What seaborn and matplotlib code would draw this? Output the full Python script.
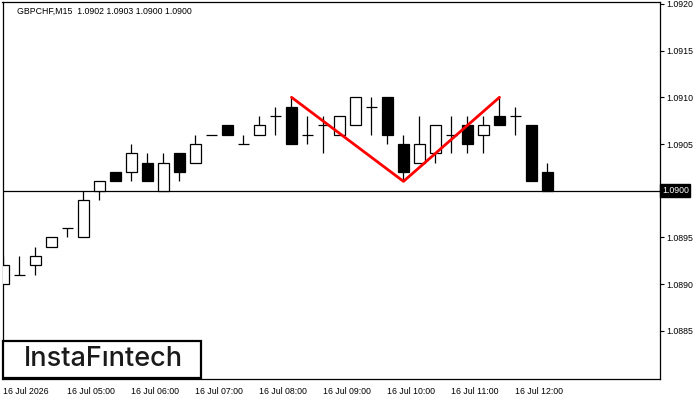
import numpy as np
import pandas as pd
import seaborn as sns
import matplotlib.pyplot as plt
from matplotlib.patches import Rectangle

# GBPCHF M15 bars, 16 Jul from 04:00
opens  = [1.0890, 1.0891, 1.0892, 1.0894, 1.0896, 1.0895, 1.0900, 1.0902, 1.0902, 1.0903,
          1.0900, 1.0904, 1.0903, 1.0906, 1.0907, 1.0905, 1.0906, 1.0908, 1.0909, 1.0906,
          1.0907, 1.0906, 1.0907, 1.0909, 1.0910, 1.0905, 1.0903, 1.0904, 1.0906, 1.0907,
          1.0906, 1.0908, 1.0908, 1.0907, 1.0902]
highs  = [1.0893, 1.0893, 1.0894, 1.0895, 1.0896, 1.0900, 1.0901, 1.0902, 1.0905, 1.0904,
          1.0904, 1.0904, 1.0906, 1.0906, 1.0907, 1.0906, 1.0908, 1.0909, 1.0910, 1.0908,
          1.0908, 1.0908, 1.0910, 1.0910, 1.0910, 1.0906, 1.0908, 1.0907, 1.0908, 1.0908,
          1.0908, 1.0910, 1.0909, 1.0907, 1.0903]
lows   = [1.0890, 1.0891, 1.0891, 1.0894, 1.0895, 1.0895, 1.0899, 1.0901, 1.0901, 1.0901,
          1.0900, 1.0901, 1.0903, 1.0906, 1.0906, 1.0905, 1.0906, 1.0906, 1.0905, 1.0905,
          1.0904, 1.0906, 1.0907, 1.0906, 1.0905, 1.0901, 1.0903, 1.0903, 1.0904, 1.0904,
          1.0904, 1.0907, 1.0906, 1.0901, 1.0900]
closes = [1.0892, 1.0891, 1.0893, 1.0895, 1.0896, 1.0899, 1.0901, 1.0901, 1.0904, 1.0901,
          1.0903, 1.0902, 1.0905, 1.0906, 1.0906, 1.0905, 1.0907, 1.0908, 1.0905, 1.0906,
          1.0907, 1.0908, 1.0910, 1.0909, 1.0906, 1.0902, 1.0905, 1.0907, 1.0906, 1.0905,
          1.0907, 1.0907, 1.0908, 1.0901, 1.0900]

time_ticks = [0, 4, 8, 12, 16, 20, 24, 28, 32]
time_labels = ['16 Jul 2026', '16 Jul 05:00', '16 Jul 06:00', '16 Jul 07:00', '16 Jul 08:00',
               '16 Jul 09:00', '16 Jul 10:00', '16 Jul 11:00', '16 Jul 12:00']
price_ticks = [1.0885, 1.0890, 1.0895, 1.0905, 1.0910, 1.0915, 1.0920]

# double top pattern: top - trough - top
pattern_bars = [18, 25, 31]
pattern_prices = [1.0910, 1.0901, 1.0910]
last_price = 1.0900

sns.set_style("white")
plt.rcParams['font.family'] = ['Liberation Sans', 'DejaVu Sans']

df = pd.DataFrame({'open': opens, 'high': highs, 'low': lows, 'close': closes})
df['bar'] = np.arange(len(df))
bull = df[df.close > df.open + 1e-9]
bear = df[df.close < df.open - 1e-9]
doji = df[np.isclose(df.close, df.open)]

fig = plt.figure(figsize=(7, 4), dpi=100)
ax = fig.add_axes([2.5 / 700, 21.5 / 400, 657 / 700, 376.5 / 400])

bw = 0.65
lw = 0.9
ax.vlines(df.bar, df.low, df.high, color='black', lw=lw, zorder=2)
ax.bar(bull.bar, bull.close - bull.open, bottom=bull.open, width=bw,
       color='white', edgecolor='black', lw=lw, zorder=3)
ax.bar(bear.bar, bear.open - bear.close, bottom=bear.close, width=bw,
       color='black', edgecolor='black', lw=lw, zorder=3)
ax.hlines(doji.open, doji.bar - bw / 2, doji.bar + bw / 2, color='black', lw=lw, zorder=3)

ax.axhline(last_price, color='black', lw=0.9, zorder=1)

pat = pd.DataFrame({'bar': pattern_bars, 'price': pattern_prices})
sns.lineplot(data=pat, x='bar', y='price', color='red', lw=2, ax=ax, zorder=5)

ax.set_xlim(-0.06, 41.0)
ax.set_ylim(1.08799, 1.09202)
ax.set_xlabel('')
ax.set_ylabel('')

ax.yaxis.tick_right()
ax.set_yticks(price_ticks, [f'{p:.4f}' for p in price_ticks])
ax.set_xticks(time_ticks, time_labels, ha='left')
ax.tick_params(axis='both', direction='out', length=3, width=0.8, color='black',
               labelsize=6.3, pad=1.5, labelcolor='black')
ax.tick_params(axis='y', pad=2)
ax.tick_params(axis='x', pad=3)
for s in ax.spines.values():
    s.set_color('black')
    s.set_linewidth(0.9)

ax.text(1.0035, last_price, f'{last_price:.4f}', transform=ax.get_yaxis_transform(),
        ha='left', va='center', color='white', fontsize=6.3,
        bbox=dict(boxstyle='square,pad=0.2', fc='black', ec='black'))

fig.text(17 / 700, 1 - 11 / 400, 'GBPCHF,M15  1.0902 1.0903 1.0900 1.0900',
         fontsize=6.3, va='center', ha='left', color='black')

# logo box
fig.patches.append(Rectangle((3 / 700, 1 - 378 / 400), 198 / 700, 37 / 400,
                             transform=fig.transFigure, fill=True, fc='white',
                             ec='black', lw=1.6, zorder=10))
fig.text(103 / 700, 1 - 359.5 / 400, 'InstaFıntech', fontsize=19.5, family='Inter',
         fontweight='medium', ha='center', va='center', color='#1a1a1a', zorder=11)

fig.savefig('out.png', dpi=100)
